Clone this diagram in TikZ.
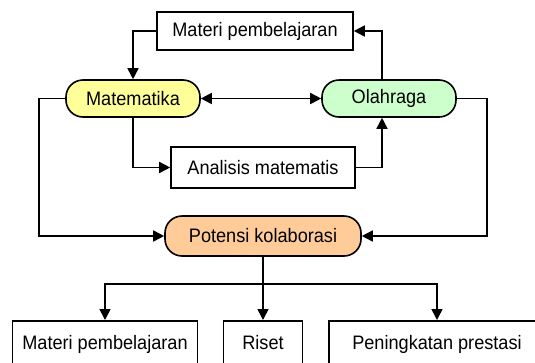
\documentclass[tikz,border=0pt]{standalone}
\usepackage{fontspec}
\setmainfont{Liberation Sans}
\newfontfamily\labelfont[FakeStretch=0.93]{Liberation Sans}
\usetikzlibrary{arrows.meta,positioning,calc}
\definecolor{kuning}{HTML}{FFFF99}
\definecolor{hijau}{HTML}{CCFFCC}
\definecolor{jingga}{HTML}{FFCC99}

\begin{document}
\begin{tikzpicture}[x=1pt,y=-1pt,>={Triangle[length=11pt,width=11pt]},line width=1.6pt,
 b/.style={draw,fill=white,align=center,inner sep=4pt,font=\labelfont\fontsize{19.5}{23}\selectfont},
 p/.style={b,rounded corners=17pt,minimum width=134pt,minimum height=37pt},
 u/.style={b,anchor=north,text height=25pt,text depth=25pt}]
\useasboundingbox (0,0) rectangle (535,362);
\node[b,minimum width=196pt,minimum height=38pt] (mp) at (255,31) {Materi pembelajaran};
\node[p,fill=kuning] (mtk) at (133,98.5) {Matematika};
\node[p,fill=hijau] (olr) at (389,98.5) {Olahraga};
\node[b,minimum width=184pt,minimum height=41pt] (am) at (263,167.5) {Analisis matematis};
\node[p,fill=jingga,minimum width=196pt,minimum height=40pt] (pk) at (263,236) {Potensi kolaborasi};
\node[u,minimum width=185pt] (mp2) at (105,320) {Materi pembelajaran};
\node[u,minimum width=79pt] (rs) at (263,320) {Riset};
\node[u,minimum width=216pt] (pp) at (437,320) {Peningkatan prestasi};
% lingkaran atas
\draw[->] (mp.west) -| (mtk.north);
\draw[->] ([xshift=-7pt]olr.north) |- (mp.east);
\draw[<->] (mtk) -- (olr);
\draw[->] (mtk.south) |- (am.west);
\draw[->] (am.east) -| ([xshift=-7pt]olr.south);
% ke potensi
\draw[->] (mtk.west) -- ++(-26,0) |- (pk.west);
\draw[->] (olr.east) -- ++(30,0) |- (pk.east);
% cabang bawah
\draw (pk.south) -- ++(0,27) coordinate (sp);
\draw[->] (sp) -| (mp2.north);
\draw[->] (sp) -- (rs.north);
\draw[->] (sp) -| (pp.north);
\end{tikzpicture}
\end{document}
